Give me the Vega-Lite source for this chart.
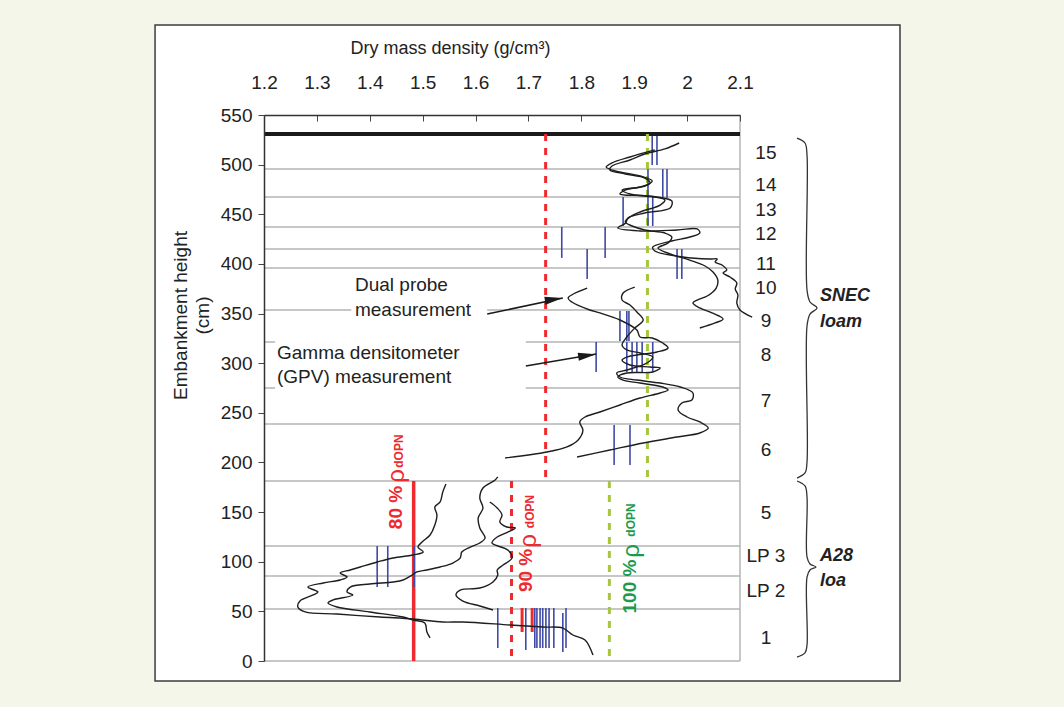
{
  "$schema": "https://vega.github.io/schema/vega-lite/v6.json",
  "width": 476,
  "height": 546,
  "autosize": {"type": "none"},
  "padding": {"left": 264, "top": 115, "right": 324, "bottom": 46},
  "config": {"background": "#ffffff", "view": {"stroke": null}, "font": "Liberation Sans"},
  "datasets": {
    "margin": [{"x1": 0.7103, "x2": 2.686, "y1": -171.2, "y2": 791.8}],
    "frame": [{"x1": 0.994, "x2": 2.4025, "y1": -20.1, "y2": 640.7}],
    "grid": [
      {"h": 495.6, "a": 1.2, "b": 2.1}, {"h": 467.4, "a": 1.2, "b": 2.1}, {"h": 437.2, "a": 1.2, "b": 2.1},
      {"h": 415.0, "a": 1.2, "b": 2.1}, {"h": 395.9, "a": 1.2, "b": 2.1},
      {"h": 353.6, "a": 1.2, "b": 1.365}, {"h": 353.6, "a": 1.622, "b": 2.1},
      {"h": 321.3, "a": 1.2, "b": 1.221}, {"h": 321.3, "a": 1.695, "b": 2.1},
      {"h": 275.0, "a": 1.2, "b": 1.221}, {"h": 275.0, "a": 1.695, "b": 2.1},
      {"h": 238.7, "a": 1.2, "b": 2.1}, {"h": 181.3, "a": 1.2, "b": 2.1}, {"h": 115.8, "a": 1.2, "b": 2.1},
      {"h": 85.6, "a": 1.2, "b": 2.1}, {"h": 52.4, "a": 1.2, "b": 2.1}, {"h": 0, "a": 1.2, "b": 2.1}
    ],
    "border": [{"d": 2.1, "a": 0, "b": 550}],
    "topline": [{"h": 530.9, "a": 1.2, "b": 2.1}],
    "redDash": [{"d": 1.7325, "a": 181.3, "b": 530.9}, {"d": 1.668, "a": 0, "b": 181.3}],
    "greenDash": [{"d": 1.925, "a": 181.3, "b": 530.9}, {"d": 1.853, "a": 0, "b": 181.3}],
    "redSolid": [{"d": 1.483, "a": 0, "b": 181.3}],
    "redShort": [{"d": 1.688, "a": 29.2, "b": 53.4}, {"d": 1.707, "a": 29.2, "b": 53.4}],
    "gpv": [
      {"d": 1.934, "a": 499.6, "b": 528.9}, {"d": 1.943, "a": 499.6, "b": 528.9},
      {"d": 1.926, "a": 466.4, "b": 495.6}, {"d": 1.954, "a": 466.4, "b": 495.6}, {"d": 1.962, "a": 466.4, "b": 495.6},
      {"d": 1.879, "a": 438.2, "b": 467.4}, {"d": 1.926, "a": 438.2, "b": 467.4}, {"d": 1.935, "a": 438.2, "b": 467.4},
      {"d": 1.763, "a": 406.0, "b": 437.2}, {"d": 1.845, "a": 406.0, "b": 437.2},
      {"d": 1.811, "a": 384.8, "b": 415.0}, {"d": 1.981, "a": 384.8, "b": 415.0}, {"d": 1.990, "a": 384.8, "b": 415.0},
      {"d": 1.873, "a": 322.3, "b": 352.6}, {"d": 1.886, "a": 322.3, "b": 352.6}, {"d": 1.890, "a": 322.3, "b": 352.6},
      {"d": 1.828, "a": 291.1, "b": 321.3}, {"d": 1.886, "a": 291.1, "b": 321.3}, {"d": 1.896, "a": 291.1, "b": 321.3},
      {"d": 1.905, "a": 291.1, "b": 321.3}, {"d": 1.915, "a": 291.1, "b": 321.3}, {"d": 1.935, "a": 291.1, "b": 321.3},
      {"d": 1.862, "a": 197.4, "b": 237.7}, {"d": 1.892, "a": 197.4, "b": 237.7},
      {"d": 1.414, "a": 74.5, "b": 115.8}, {"d": 1.434, "a": 74.5, "b": 115.8}, {"d": 1.484, "a": 74.5, "b": 115.8},
      {"d": 1.642, "a": 13.1, "b": 53.4}, {"d": 1.695, "a": 11.1, "b": 53.4}, {"d": 1.712, "a": 13.1, "b": 53.4},
      {"d": 1.716, "a": 13.1, "b": 53.4}, {"d": 1.722, "a": 13.1, "b": 53.4}, {"d": 1.727, "a": 13.1, "b": 53.4},
      {"d": 1.733, "a": 13.1, "b": 53.4}, {"d": 1.739, "a": 13.1, "b": 53.4}, {"d": 1.748, "a": 13.1, "b": 53.4},
      {"d": 1.765, "a": 9.1, "b": 48.4}, {"d": 1.771, "a": 13.1, "b": 53.4}
    ],
    "curves": [
      {"c": "L1", "i": 0, "d": 1.544, "h": 178.3}, {"c": "L1", "i": 1, "d": 1.538, "h": 170.2}, {"c": "L1", "i": 2, "d": 1.533, "h": 160.2},
      {"c": "L1", "i": 3, "d": 1.523, "h": 155.1}, {"c": "L1", "i": 4, "d": 1.527, "h": 147.1}, {"c": "L1", "i": 5, "d": 1.523, "h": 137.0},
      {"c": "L1", "i": 6, "d": 1.514, "h": 126.9}, {"c": "L1", "i": 7, "d": 1.499, "h": 119.9}, {"c": "L1", "i": 8, "d": 1.491, "h": 114.8},
      {"c": "L1", "i": 9, "d": 1.501, "h": 109.8}, {"c": "L1", "i": 10, "d": 1.482, "h": 106.8}, {"c": "L1", "i": 11, "d": 1.444, "h": 103.8},
      {"c": "L1", "i": 12, "d": 1.414, "h": 99.7}, {"c": "L1", "i": 13, "d": 1.382, "h": 94.7}, {"c": "L1", "i": 14, "d": 1.363, "h": 91.7},
      {"c": "L1", "i": 15, "d": 1.344, "h": 88.6}, {"c": "L1", "i": 16, "d": 1.357, "h": 84.6}, {"c": "L1", "i": 17, "d": 1.344, "h": 81.6},
      {"c": "L1", "i": 18, "d": 1.312, "h": 78.6}, {"c": "L1", "i": 19, "d": 1.283, "h": 74.5}, {"c": "L1", "i": 20, "d": 1.302, "h": 69.5},
      {"c": "L1", "i": 21, "d": 1.293, "h": 66.5}, {"c": "L1", "i": 22, "d": 1.268, "h": 60.4}, {"c": "L1", "i": 23, "d": 1.264, "h": 54.4},
      {"c": "L1", "i": 24, "d": 1.278, "h": 49.4}, {"c": "L1", "i": 25, "d": 1.338, "h": 47.3}, {"c": "L1", "i": 26, "d": 1.419, "h": 44.3},
      {"c": "L1", "i": 27, "d": 1.482, "h": 42.3}, {"c": "L1", "i": 28, "d": 1.538, "h": 39.3}, {"c": "L1", "i": 29, "d": 1.576, "h": 39.3},
      {"c": "L1", "i": 30, "d": 1.665, "h": 36.3}, {"c": "L1", "i": 31, "d": 1.728, "h": 34.2}, {"c": "L1", "i": 32, "d": 1.765, "h": 33.2},
      {"c": "L1", "i": 33, "d": 1.784, "h": 26.2}, {"c": "L1", "i": 34, "d": 1.807, "h": 21.2}, {"c": "L1", "i": 35, "d": 1.822, "h": 6.0},
      {"c": "L2", "i": 0, "d": 1.642, "h": 185.4}, {"c": "L2", "i": 1, "d": 1.637, "h": 182.3}, {"c": "L2", "i": 2, "d": 1.614, "h": 174.3},
      {"c": "L2", "i": 3, "d": 1.608, "h": 164.2}, {"c": "L2", "i": 4, "d": 1.614, "h": 154.1}, {"c": "L2", "i": 5, "d": 1.605, "h": 144.1},
      {"c": "L2", "i": 6, "d": 1.608, "h": 134.0}, {"c": "L2", "i": 7, "d": 1.618, "h": 123.9}, {"c": "L2", "i": 8, "d": 1.608, "h": 118.9},
      {"c": "L2", "i": 9, "d": 1.590, "h": 114.8}, {"c": "L2", "i": 10, "d": 1.574, "h": 109.8}, {"c": "L2", "i": 11, "d": 1.571, "h": 103.8},
      {"c": "L2", "i": 12, "d": 1.557, "h": 98.7}, {"c": "L2", "i": 13, "d": 1.533, "h": 94.7}, {"c": "L2", "i": 14, "d": 1.508, "h": 91.7},
      {"c": "L2", "i": 15, "d": 1.489, "h": 89.7}, {"c": "L2", "i": 16, "d": 1.480, "h": 86.6}, {"c": "L2", "i": 17, "d": 1.463, "h": 81.6},
      {"c": "L2", "i": 18, "d": 1.444, "h": 79.6}, {"c": "L2", "i": 19, "d": 1.400, "h": 77.6}, {"c": "L2", "i": 20, "d": 1.363, "h": 74.5},
      {"c": "L2", "i": 21, "d": 1.357, "h": 69.5}, {"c": "L2", "i": 22, "d": 1.368, "h": 66.5}, {"c": "L2", "i": 23, "d": 1.330, "h": 61.4},
      {"c": "L2", "i": 24, "d": 1.321, "h": 58.4}, {"c": "L2", "i": 25, "d": 1.338, "h": 54.4}, {"c": "L2", "i": 26, "d": 1.400, "h": 49.4},
      {"c": "L2", "i": 27, "d": 1.463, "h": 44.3}, {"c": "L2", "i": 28, "d": 1.482, "h": 41.3}, {"c": "L2", "i": 29, "d": 1.504, "h": 38.3},
      {"c": "L2", "i": 30, "d": 1.508, "h": 29.2}, {"c": "L2", "i": 31, "d": 1.514, "h": 23.2},
      {"c": "L3", "i": 0, "d": 1.627, "h": 160.2}, {"c": "L3", "i": 1, "d": 1.641, "h": 154.1}, {"c": "L3", "i": 2, "d": 1.650, "h": 147.1},
      {"c": "L3", "i": 3, "d": 1.646, "h": 140.0}, {"c": "L3", "i": 4, "d": 1.659, "h": 135.0}, {"c": "L3", "i": 5, "d": 1.675, "h": 134.0},
      {"c": "L3", "i": 6, "d": 1.661, "h": 129.9}, {"c": "L3", "i": 7, "d": 1.641, "h": 124.9}, {"c": "L3", "i": 8, "d": 1.631, "h": 118.9},
      {"c": "L3", "i": 9, "d": 1.661, "h": 111.8}, {"c": "L3", "i": 10, "d": 1.669, "h": 103.8}, {"c": "L3", "i": 11, "d": 1.652, "h": 96.7},
      {"c": "L3", "i": 12, "d": 1.641, "h": 91.7}, {"c": "L3", "i": 13, "d": 1.642, "h": 86.6}, {"c": "L3", "i": 14, "d": 1.633, "h": 79.6},
      {"c": "L3", "i": 15, "d": 1.608, "h": 73.5}, {"c": "L3", "i": 16, "d": 1.571, "h": 71.5}, {"c": "L3", "i": 17, "d": 1.563, "h": 66.5},
      {"c": "L3", "i": 18, "d": 1.576, "h": 60.4}, {"c": "L3", "i": 19, "d": 1.608, "h": 55.4}, {"c": "L3", "i": 20, "d": 1.633, "h": 51.4},
      {"c": "U1", "i": 0, "d": 1.985, "h": 521.8}, {"c": "U1", "i": 1, "d": 1.958, "h": 515.8}, {"c": "U1", "i": 2, "d": 1.920, "h": 510.7},
      {"c": "U1", "i": 3, "d": 1.892, "h": 504.7}, {"c": "U1", "i": 4, "d": 1.858, "h": 498.6}, {"c": "U1", "i": 5, "d": 1.854, "h": 494.6},
      {"c": "U1", "i": 6, "d": 1.883, "h": 490.6}, {"c": "U1", "i": 7, "d": 1.920, "h": 486.5}, {"c": "U1", "i": 8, "d": 1.930, "h": 481.5},
      {"c": "U1", "i": 9, "d": 1.911, "h": 477.5}, {"c": "U1", "i": 10, "d": 1.877, "h": 474.4}, {"c": "U1", "i": 11, "d": 1.892, "h": 470.4},
      {"c": "U1", "i": 12, "d": 1.943, "h": 467.4}, {"c": "U1", "i": 13, "d": 1.971, "h": 463.4}, {"c": "U1", "i": 14, "d": 1.968, "h": 456.3},
      {"c": "U1", "i": 15, "d": 1.920, "h": 451.3}, {"c": "U1", "i": 16, "d": 1.888, "h": 446.3}, {"c": "U1", "i": 17, "d": 1.884, "h": 441.2},
      {"c": "U1", "i": 18, "d": 1.869, "h": 436.2}, {"c": "U1", "i": 19, "d": 1.911, "h": 433.2}, {"c": "U1", "i": 20, "d": 1.981, "h": 434.2},
      {"c": "U1", "i": 21, "d": 2.019, "h": 435.2}, {"c": "U1", "i": 22, "d": 2.024, "h": 431.1}, {"c": "U1", "i": 23, "d": 2.005, "h": 427.1},
      {"c": "U1", "i": 24, "d": 1.971, "h": 423.1}, {"c": "U1", "i": 25, "d": 1.935, "h": 417.0}, {"c": "U1", "i": 26, "d": 1.939, "h": 413.0},
      {"c": "U1", "i": 27, "d": 1.992, "h": 407.0}, {"c": "U1", "i": 28, "d": 2.043, "h": 404.9}, {"c": "U1", "i": 29, "d": 2.057, "h": 404.9},
      {"c": "U1", "i": 30, "d": 2.053, "h": 401.9}, {"c": "U1", "i": 31, "d": 2.066, "h": 398.9}, {"c": "U1", "i": 32, "d": 2.075, "h": 393.9},
      {"c": "U1", "i": 33, "d": 2.068, "h": 390.8}, {"c": "U1", "i": 34, "d": 2.081, "h": 386.8}, {"c": "U1", "i": 35, "d": 2.094, "h": 380.8},
      {"c": "U1", "i": 36, "d": 2.091, "h": 374.7}, {"c": "U1", "i": 37, "d": 2.096, "h": 368.7}, {"c": "U1", "i": 38, "d": 2.094, "h": 360.6},
      {"c": "U1", "i": 39, "d": 2.100, "h": 353.6}, {"c": "U1", "i": 40, "d": 2.123, "h": 346.5},
      {"c": "U2", "i": 0, "d": 1.939, "h": 514.8}, {"c": "U2", "i": 1, "d": 1.892, "h": 507.7}, {"c": "U2", "i": 2, "d": 1.858, "h": 501.7},
      {"c": "U2", "i": 3, "d": 1.847, "h": 497.6}, {"c": "U2", "i": 4, "d": 1.864, "h": 493.6}, {"c": "U2", "i": 5, "d": 1.911, "h": 488.6},
      {"c": "U2", "i": 6, "d": 1.934, "h": 483.5}, {"c": "U2", "i": 7, "d": 1.920, "h": 478.5}, {"c": "U2", "i": 8, "d": 1.883, "h": 474.4},
      {"c": "U2", "i": 9, "d": 1.873, "h": 470.4}, {"c": "U2", "i": 10, "d": 1.920, "h": 468.4}, {"c": "U2", "i": 11, "d": 1.958, "h": 464.4},
      {"c": "U2", "i": 12, "d": 1.949, "h": 459.3}, {"c": "U2", "i": 13, "d": 1.911, "h": 452.3}, {"c": "U2", "i": 14, "d": 1.892, "h": 447.3},
      {"c": "U2", "i": 15, "d": 1.883, "h": 442.2}, {"c": "U2", "i": 16, "d": 1.896, "h": 438.2}, {"c": "U2", "i": 17, "d": 1.920, "h": 434.2},
      {"c": "U2", "i": 18, "d": 1.958, "h": 431.1}, {"c": "U2", "i": 19, "d": 1.971, "h": 427.1}, {"c": "U2", "i": 20, "d": 1.964, "h": 421.1},
      {"c": "U2", "i": 21, "d": 1.945, "h": 416.0}, {"c": "U2", "i": 22, "d": 1.968, "h": 410.0}, {"c": "U2", "i": 23, "d": 2.005, "h": 403.9},
      {"c": "U2", "i": 24, "d": 2.034, "h": 397.9}, {"c": "U2", "i": 25, "d": 2.049, "h": 391.9}, {"c": "U2", "i": 26, "d": 2.058, "h": 383.8},
      {"c": "U2", "i": 27, "d": 2.055, "h": 375.7}, {"c": "U2", "i": 28, "d": 2.038, "h": 367.7}, {"c": "U2", "i": 29, "d": 2.019, "h": 363.6},
      {"c": "U2", "i": 30, "d": 2.011, "h": 360.6}, {"c": "U2", "i": 31, "d": 2.024, "h": 355.6}, {"c": "U2", "i": 32, "d": 2.047, "h": 350.6},
      {"c": "U2", "i": 33, "d": 2.068, "h": 344.5}, {"c": "U2", "i": 34, "d": 2.053, "h": 340.5}, {"c": "U2", "i": 35, "d": 2.024, "h": 335.4},
      {"c": "U3", "i": 0, "d": 1.811, "h": 375.7}, {"c": "U3", "i": 1, "d": 1.775, "h": 365.7}, {"c": "U3", "i": 2, "d": 1.782, "h": 361.6},
      {"c": "U3", "i": 3, "d": 1.816, "h": 353.6}, {"c": "U3", "i": 4, "d": 1.835, "h": 350.6}, {"c": "U3", "i": 5, "d": 1.873, "h": 343.5},
      {"c": "U3", "i": 6, "d": 1.905, "h": 333.4}, {"c": "U3", "i": 7, "d": 1.911, "h": 326.4}, {"c": "U3", "i": 8, "d": 1.934, "h": 325.4},
      {"c": "U3", "i": 9, "d": 1.954, "h": 320.3}, {"c": "U3", "i": 10, "d": 1.964, "h": 315.3}, {"c": "U3", "i": 11, "d": 1.943, "h": 311.3},
      {"c": "U3", "i": 12, "d": 1.905, "h": 308.2}, {"c": "U3", "i": 13, "d": 1.886, "h": 306.2}, {"c": "U3", "i": 14, "d": 1.877, "h": 303.2},
      {"c": "U3", "i": 15, "d": 1.892, "h": 298.2}, {"c": "U3", "i": 16, "d": 1.930, "h": 296.2}, {"c": "U3", "i": 17, "d": 1.949, "h": 295.2},
      {"c": "U3", "i": 18, "d": 1.935, "h": 291.1}, {"c": "U3", "i": 19, "d": 1.886, "h": 290.1}, {"c": "U3", "i": 20, "d": 1.869, "h": 286.1},
      {"c": "U3", "i": 21, "d": 1.879, "h": 283.0}, {"c": "U3", "i": 22, "d": 1.911, "h": 280.0}, {"c": "U3", "i": 23, "d": 1.954, "h": 276.0},
      {"c": "U3", "i": 24, "d": 1.964, "h": 273.0}, {"c": "U3", "i": 25, "d": 1.949, "h": 270.0}, {"c": "U3", "i": 26, "d": 1.911, "h": 264.9},
      {"c": "U3", "i": 27, "d": 1.873, "h": 257.9}, {"c": "U3", "i": 28, "d": 1.835, "h": 250.8}, {"c": "U3", "i": 29, "d": 1.807, "h": 245.8},
      {"c": "U3", "i": 30, "d": 1.797, "h": 240.8}, {"c": "U3", "i": 31, "d": 1.803, "h": 232.7}, {"c": "U3", "i": 32, "d": 1.794, "h": 222.6},
      {"c": "U3", "i": 33, "d": 1.773, "h": 215.6}, {"c": "U3", "i": 34, "d": 1.735, "h": 210.5}, {"c": "U3", "i": 35, "d": 1.656, "h": 204.5},
      {"c": "U4", "i": 0, "d": 1.901, "h": 376.7}, {"c": "U4", "i": 1, "d": 1.879, "h": 370.7}, {"c": "U4", "i": 2, "d": 1.877, "h": 363.6},
      {"c": "U4", "i": 3, "d": 1.892, "h": 358.6}, {"c": "U4", "i": 4, "d": 1.905, "h": 351.6}, {"c": "U4", "i": 5, "d": 1.917, "h": 343.5},
      {"c": "U4", "i": 6, "d": 1.901, "h": 335.4}, {"c": "U4", "i": 7, "d": 1.886, "h": 326.4}, {"c": "U4", "i": 8, "d": 1.877, "h": 318.3},
      {"c": "U4", "i": 9, "d": 1.886, "h": 313.3}, {"c": "U4", "i": 10, "d": 1.911, "h": 310.3}, {"c": "U4", "i": 11, "d": 1.935, "h": 306.2},
      {"c": "U4", "i": 12, "d": 1.924, "h": 300.2}, {"c": "U4", "i": 13, "d": 1.886, "h": 293.1}, {"c": "U4", "i": 14, "d": 1.867, "h": 290.1},
      {"c": "U4", "i": 15, "d": 1.873, "h": 286.1}, {"c": "U4", "i": 16, "d": 1.905, "h": 283.0}, {"c": "U4", "i": 17, "d": 1.949, "h": 280.0},
      {"c": "U4", "i": 18, "d": 1.987, "h": 276.0}, {"c": "U4", "i": 19, "d": 2.011, "h": 270.0}, {"c": "U4", "i": 20, "d": 2.009, "h": 262.9},
      {"c": "U4", "i": 21, "d": 1.990, "h": 259.9}, {"c": "U4", "i": 22, "d": 1.983, "h": 252.8}, {"c": "U4", "i": 23, "d": 2.000, "h": 245.8},
      {"c": "U4", "i": 24, "d": 2.024, "h": 240.8}, {"c": "U4", "i": 25, "d": 2.040, "h": 234.7}, {"c": "U4", "i": 26, "d": 2.024, "h": 229.7},
      {"c": "U4", "i": 27, "d": 1.981, "h": 225.6}, {"c": "U4", "i": 28, "d": 1.917, "h": 219.6}, {"c": "U4", "i": 29, "d": 1.854, "h": 212.5},
      {"c": "U4", "i": 30, "d": 1.792, "h": 205.5}
    ],
    "braces": [
      {"c": "S", "i": 0, "d": 2.2078, "h": 526.8}, {"c": "S", "i": 1, "d": 2.2229, "h": 521.8}, {"c": "S", "i": 2, "d": 2.2267, "h": 509.7},
      {"c": "S", "i": 3, "d": 2.2267, "h": 373.7}, {"c": "S", "i": 4, "d": 2.2323, "h": 361.6}, {"c": "S", "i": 5, "d": 2.2456, "h": 355.6},
      {"c": "S", "i": 6, "d": 2.2323, "h": 349.5}, {"c": "S", "i": 7, "d": 2.2267, "h": 337.5}, {"c": "S", "i": 8, "d": 2.2267, "h": 200.5},
      {"c": "S", "i": 9, "d": 2.2229, "h": 189.4}, {"c": "S", "i": 10, "d": 2.2078, "h": 184.3},
      {"c": "A", "i": 0, "d": 2.2078, "h": 181.3}, {"c": "A", "i": 1, "d": 2.2229, "h": 176.3}, {"c": "A", "i": 2, "d": 2.2267, "h": 165.2},
      {"c": "A", "i": 3, "d": 2.2267, "h": 104.8}, {"c": "A", "i": 4, "d": 2.2323, "h": 97.7}, {"c": "A", "i": 5, "d": 2.2437, "h": 94.7},
      {"c": "A", "i": 6, "d": 2.2323, "h": 91.7}, {"c": "A", "i": 7, "d": 2.2267, "h": 84.6}, {"c": "A", "i": 8, "d": 2.2267, "h": 16.1},
      {"c": "A", "i": 9, "d": 2.2229, "h": 8.1}, {"c": "A", "i": 10, "d": 2.2078, "h": 4.0}
    ],
    "arrows": [
      {"x1": 1.622, "y1": 349.5, "x2": 1.765, "y2": 365.7, "hx": 1.748, "hy": 364.2},
      {"x1": 1.695, "y1": 297.2, "x2": 1.828, "y2": 309.3, "hx": 1.811, "hy": 307.7}
    ],
    "notes": [
      {"d": 1.372, "h": 378.8, "t": "Dual probe"}, {"d": 1.372, "h": 353.6, "t": "measurement"},
      {"d": 1.2246, "h": 310.3, "t": "Gamma densitometer"}, {"d": 1.2246, "h": 286.1, "t": "(GPV) measurement"}
    ],
    "layers": [
      {"d": 2.149, "h": 511.7, "t": "15"}, {"d": 2.149, "h": 479.5, "t": "14"}, {"d": 2.149, "h": 454.3, "t": "13"},
      {"d": 2.149, "h": 430.1, "t": "12"}, {"d": 2.149, "h": 399.9, "t": "11"}, {"d": 2.149, "h": 375.7, "t": "10"},
      {"d": 2.149, "h": 342.5, "t": "9"}, {"d": 2.149, "h": 308.2, "t": "8"}, {"d": 2.149, "h": 261.9, "t": "7"},
      {"d": 2.149, "h": 212.5, "t": "6"}, {"d": 2.149, "h": 149.1, "t": "5"}, {"d": 2.149, "h": 105.8, "t": "LP 3"},
      {"d": 2.149, "h": 70.5, "t": "LP 2"}, {"d": 2.149, "h": 23.2, "t": "1"}
    ],
    "soils": [
      {"d": 2.2512, "h": 367.7, "t": "SNEC"}, {"d": 2.2512, "h": 341.5, "t": "loam"},
      {"d": 2.2512, "h": 105.8, "t": "A28"}, {"d": 2.2512, "h": 80.6, "t": "loa"}
    ],
    "redPct": [{"d": 1.4496, "h": 154.6, "t": "80 %"}, {"d": 1.6963, "h": 91.2, "t": "90 %"}],
    "redRho": [{"d": 1.4524, "h": 186.4, "t": "ρ"}, {"d": 1.701, "h": 120.9, "t": "ρ"}],
    "redSub": [{"d": 1.4545, "h": 211.5, "t": "dOPN"}, {"d": 1.703, "h": 150.6, "t": "dOPN"}],
    "greenPct": [{"d": 1.892, "h": 75.0, "t": "100 %"}],
    "greenRho": [{"d": 1.896, "h": 110.8, "t": "ρ"}],
    "greenSub": [{"d": 1.894, "h": 142.0, "t": "dOPN"}]
  },
  "layer": [
    {
      "data": {"name": "margin"},
      "mark": {"type": "rect", "fill": null, "stroke": "#f3f6e9", "strokeWidth": 300},
      "encoding": {
        "x": {
          "field": "x1", "type": "quantitative",
          "scale": {"domain": [1.2, 2.1], "nice": false, "zero": false},
          "axis": {
            "orient": "top", "values": [1.2, 1.3, 1.4, 1.5, 1.6, 1.7, 1.8, 1.9, 2, 2.1], "format": "~g",
            "title": "Dry mass density (g/cm³)", "titleFontSize": 18, "titleFontWeight": "normal", "titleColor": "#222222",
            "titleX": 186, "titleY": -67, "titleAlign": "center", "titleBaseline": "middle",
            "labelFontSize": 19, "labelColor": "#222222", "labelPadding": 29, "labelFlush": false, "labelOverlap": false,
            "tickSize": -6, "tickColor": "#444444", "domainColor": "#333333", "domainWidth": 1.5,
            "grid": false, "zindex": 1
          }
        },
        "x2": {"field": "x2"},
        "y": {
          "field": "y1", "type": "quantitative",
          "scale": {"domain": [0, 550], "nice": false, "zero": false},
          "axis": {
            "orient": "left", "values": [0, 50, 100, 150, 200, 250, 300, 350, 400, 450, 500, 550],
            "title": ["Embankment height", "(cm)"], "titleFontSize": 19, "titleFontWeight": "normal", "titleColor": "#222222",
            "titleAngle": -90, "titleX": -84, "titleY": 200, "titleAlign": "center", "titleBaseline": "middle", "titleLineHeight": 22,
            "labelFontSize": 19, "labelColor": "#222222", "labelPadding": 6, "labelFlush": false, "labelOverlap": false,
            "tickSize": 6, "tickColor": "#444444", "domainColor": "#333333", "domainWidth": 1.5,
            "grid": false, "zindex": 1
          }
        },
        "y2": {"field": "y2"}
      }
    },
    {
      "data": {"name": "frame"},
      "mark": {"type": "rect", "fill": null, "stroke": "#3c3c3c", "strokeWidth": 1.5},
      "encoding": {
        "x": {"field": "x1", "type": "quantitative"}, "x2": {"field": "x2"},
        "y": {"field": "y1", "type": "quantitative"}, "y2": {"field": "y2"}
      }
    },
    {
      "data": {"name": "grid"},
      "mark": {"type": "rule", "color": "#b4b4b4", "strokeWidth": 1.5},
      "encoding": {
        "x": {"field": "a", "type": "quantitative"}, "x2": {"field": "b"},
        "y": {"field": "h", "type": "quantitative"}
      }
    },
    {
      "data": {"name": "border"},
      "mark": {"type": "rule", "color": "#b4b4b4", "strokeWidth": 1.5},
      "encoding": {
        "x": {"field": "d", "type": "quantitative"},
        "y": {"field": "a", "type": "quantitative"}, "y2": {"field": "b"}
      }
    },
    {
      "data": {"name": "topline"},
      "mark": {"type": "rule", "color": "#1a1a1a", "strokeWidth": 4},
      "encoding": {
        "x": {"field": "a", "type": "quantitative"}, "x2": {"field": "b"},
        "y": {"field": "h", "type": "quantitative"}
      }
    },
    {
      "data": {"name": "redDash"},
      "mark": {"type": "rule", "color": "#ee2a2f", "strokeWidth": 3, "strokeDash": [7, 7]},
      "encoding": {
        "x": {"field": "d", "type": "quantitative"},
        "y": {"field": "b", "type": "quantitative"}, "y2": {"field": "a"}
      }
    },
    {
      "data": {"name": "greenDash"},
      "mark": {"type": "rule", "color": "#a6c63e", "strokeWidth": 3, "strokeDash": [7, 7]},
      "encoding": {
        "x": {"field": "d", "type": "quantitative"},
        "y": {"field": "b", "type": "quantitative"}, "y2": {"field": "a"}
      }
    },
    {
      "data": {"name": "redSolid"},
      "mark": {"type": "rule", "color": "#ee2a2f", "strokeWidth": 3.5},
      "encoding": {
        "x": {"field": "d", "type": "quantitative"},
        "y": {"field": "a", "type": "quantitative"}, "y2": {"field": "b"}
      }
    },
    {
      "data": {"name": "redShort"},
      "mark": {"type": "rule", "color": "#ee2a2f", "strokeWidth": 3},
      "encoding": {
        "x": {"field": "d", "type": "quantitative"},
        "y": {"field": "a", "type": "quantitative"}, "y2": {"field": "b"}
      }
    },
    {
      "data": {"name": "gpv"},
      "mark": {"type": "rule", "color": "#3f4aa6", "strokeWidth": 1.6},
      "encoding": {
        "x": {"field": "d", "type": "quantitative"},
        "y": {"field": "a", "type": "quantitative"}, "y2": {"field": "b"}
      }
    },
    {
      "data": {"name": "curves"},
      "mark": {"type": "line", "color": "#1e1e1e", "strokeWidth": 1.4, "interpolate": "catmull-rom"},
      "encoding": {
        "x": {"field": "d", "type": "quantitative"},
        "y": {"field": "h", "type": "quantitative"},
        "detail": {"field": "c"},
        "order": {"field": "i"}
      }
    },
    {
      "data": {"name": "braces"},
      "mark": {"type": "line", "color": "#333333", "strokeWidth": 1.3, "interpolate": "catmull-rom"},
      "encoding": {
        "x": {"field": "d", "type": "quantitative"},
        "y": {"field": "h", "type": "quantitative"},
        "detail": {"field": "c"},
        "order": {"field": "i"}
      }
    },
    {
      "data": {"name": "arrows"},
      "mark": {"type": "rule", "color": "#1a1a1a", "strokeWidth": 1.5},
      "encoding": {
        "x": {"field": "x1", "type": "quantitative"}, "x2": {"field": "x2"},
        "y": {"field": "y1", "type": "quantitative"}, "y2": {"field": "y2"}
      }
    },
    {
      "data": {"name": "arrows"},
      "mark": {"type": "point", "shape": "M-1,-0.45L1,0L-1,0.45Z", "filled": true, "color": "#1a1a1a", "opacity": 1, "size": 324, "angle": -8.5},
      "encoding": {
        "x": {"field": "hx", "type": "quantitative"},
        "y": {"field": "hy", "type": "quantitative"}
      }
    },
    {
      "data": {"name": "notes"},
      "mark": {"type": "text", "align": "left", "baseline": "middle", "fontSize": 19, "color": "#222222"},
      "encoding": {
        "x": {"field": "d", "type": "quantitative"},
        "y": {"field": "h", "type": "quantitative"},
        "text": {"field": "t"}
      }
    },
    {
      "data": {"name": "layers"},
      "mark": {"type": "text", "align": "center", "baseline": "middle", "fontSize": 19, "color": "#222222"},
      "encoding": {
        "x": {"field": "d", "type": "quantitative"},
        "y": {"field": "h", "type": "quantitative"},
        "text": {"field": "t"}
      }
    },
    {
      "data": {"name": "soils"},
      "mark": {"type": "text", "align": "left", "baseline": "middle", "fontSize": 18, "fontWeight": "bold", "fontStyle": "italic", "color": "#222222"},
      "encoding": {
        "x": {"field": "d", "type": "quantitative"},
        "y": {"field": "h", "type": "quantitative"},
        "text": {"field": "t"}
      }
    },
    {
      "data": {"name": "redPct"},
      "mark": {"type": "text", "align": "center", "baseline": "middle", "angle": 270, "fontSize": 19, "fontWeight": "bold", "color": "#ee2a2f"},
      "encoding": {
        "x": {"field": "d", "type": "quantitative"},
        "y": {"field": "h", "type": "quantitative"},
        "text": {"field": "t"}
      }
    },
    {
      "data": {"name": "redRho"},
      "mark": {"type": "text", "align": "center", "baseline": "middle", "angle": 270, "fontSize": 24, "color": "#ee2a2f"},
      "encoding": {
        "x": {"field": "d", "type": "quantitative"},
        "y": {"field": "h", "type": "quantitative"},
        "text": {"field": "t"}
      }
    },
    {
      "data": {"name": "redSub"},
      "mark": {"type": "text", "align": "center", "baseline": "middle", "angle": 270, "fontSize": 12, "fontWeight": "bold", "color": "#ee2a2f"},
      "encoding": {
        "x": {"field": "d", "type": "quantitative"},
        "y": {"field": "h", "type": "quantitative"},
        "text": {"field": "t"}
      }
    },
    {
      "data": {"name": "greenPct"},
      "mark": {"type": "text", "align": "center", "baseline": "middle", "angle": 270, "fontSize": 19, "fontWeight": "bold", "color": "#1d9a4a"},
      "encoding": {
        "x": {"field": "d", "type": "quantitative"},
        "y": {"field": "h", "type": "quantitative"},
        "text": {"field": "t"}
      }
    },
    {
      "data": {"name": "greenRho"},
      "mark": {"type": "text", "align": "center", "baseline": "middle", "angle": 270, "fontSize": 24, "color": "#1d9a4a"},
      "encoding": {
        "x": {"field": "d", "type": "quantitative"},
        "y": {"field": "h", "type": "quantitative"},
        "text": {"field": "t"}
      }
    },
    {
      "data": {"name": "greenSub"},
      "mark": {"type": "text", "align": "center", "baseline": "middle", "angle": 270, "fontSize": 12, "fontWeight": "bold", "color": "#1d9a4a"},
      "encoding": {
        "x": {"field": "d", "type": "quantitative"},
        "y": {"field": "h", "type": "quantitative"},
        "text": {"field": "t"}
      }
    }
  ]
}
